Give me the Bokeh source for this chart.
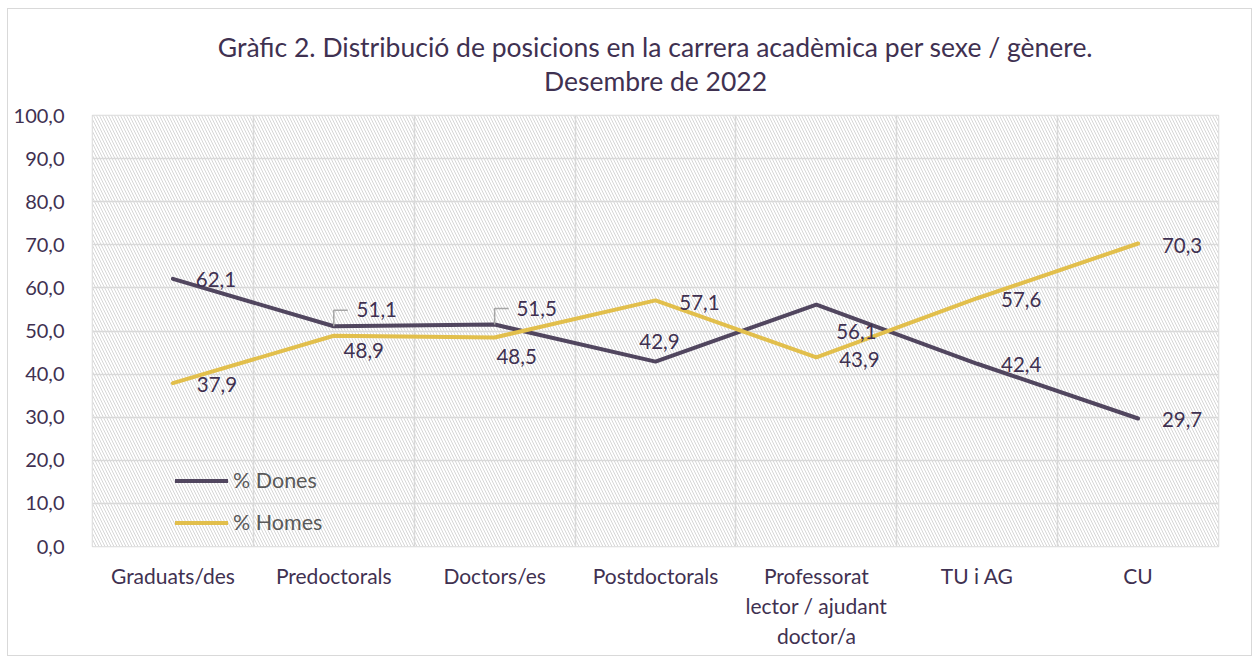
from bokeh.plotting import figure
from bokeh.models import (Range1d, FixedTicker, Title, Legend, LegendItem, ColumnDataSource)
from bokeh.core.properties import value
from bokeh.embed import file_html
from bokeh.resources import INLINE

# ---------------- data ----------------
categories = ["Graduats/des", "Predoctorals", "Doctors/es", "Postdoctorals",
              "Professorat\nlector / ajudant\ndoctor/a", "TU i AG", "CU"]
dones = [62.1, 51.1, 51.5, 42.9, 56.1, 42.4, 29.7]
homes = [37.9, 48.9, 48.5, 57.1, 43.9, 57.6, 70.3]
y_ticks = [0, 10, 20, 30, 40, 50, 60, 70, 80, 90, 100]
title_line1 = "Gràfic 2. Distribució de posicions en la carrera acadèmica per sexe / gènere."
title_line2 = "Desembre de 2022"

# ---------------- style ----------------
FONT = "Lato"
TEXT = "#3f3151"
C_DONES = "#51465f"
C_HOMES = "#e2bf4c"
GRID = "#d9d9d9"
FW, FH = 1126, 431
PX_X = FW / len(categories)
PX_Y = FH / 100.0

# label offsets in screen pixels (x right, y down)
dones_dx = [43, 43, 42, 4, 40, 44, 44]
dones_dy = [1, -17, -16, -20, 27, 1, 1]
homes_dx = [44, 30, 22, 44, 43, 44, 44]
homes_dy = [1, 15, 19, 2, 2, 1, 2]

xs = [i + 0.5 for i in range(len(categories))]

p = figure(frame_width=FW, frame_height=FH,
           x_range=Range1d(0, len(categories)), y_range=Range1d(0, 100),
           output_backend="svg", toolbar_location=None,
           min_border_left=84, min_border_right=33,
           min_border_top=0, min_border_bottom=109,
           background_fill_color="white", border_fill_color="white")
p.styles = {"margin-left": "7px", "margin-top": "8px",
            "border": "1px solid #d9d9d9"}
p.outline_line_color = GRID
p.outline_line_width = 1.5

# hatched plot area
p.quad(left=[0], right=[len(categories)], bottom=[0], top=[100],
       fill_color="white", line_color=None,
       hatch_pattern="\\", hatch_color="#d6d6d6", hatch_scale=6, hatch_weight=1,
       level="image")

# axes
p.xaxis.ticker = FixedTicker(ticks=xs)
p.xaxis.major_label_overrides = {x: c for x, c in zip(xs, categories)}
p.yaxis.ticker = FixedTicker(ticks=y_ticks)
p.yaxis.major_label_overrides = {v: f"{v:.1f}".replace(".", ",") for v in y_ticks}
for ax in (p.xaxis, p.yaxis):
    ax.axis_line_color = None
    ax.major_tick_line_color = None
    ax.minor_tick_line_color = None
    ax.major_label_text_font = FONT
    ax.major_label_text_color = TEXT
p.yaxis.major_label_text_font_size = "20px"
p.xaxis.major_label_text_font_size = "21px"
p.yaxis.major_label_standoff = 22
p.xaxis.major_label_standoff = 10

p.xgrid.ticker = FixedTicker(ticks=list(range(len(categories) + 1)))
p.ygrid.ticker = FixedTicker(ticks=y_ticks)
for g in (p.xgrid, p.ygrid):
    g.grid_line_color = GRID
    g.grid_line_width = 1.5

# lines
r_d = p.line(xs, dones, line_color=C_DONES, line_width=4, line_join="round", line_cap="round")
r_h = p.line(xs, homes, line_color=C_HOMES, line_width=4, line_join="round", line_cap="round")

# leader lines for the two moved labels
lead_x, lead_y = [], []
for i in (1, 2):
    x0, y0 = xs[i], dones[i]
    lead_x.append([x0, x0, x0 + 14 / PX_X])
    lead_y.append([y0, y0 + 16 / PX_Y, y0 + 16 / PX_Y])
p.multi_line(lead_x, lead_y, line_color="#a6a6a6", line_width=1.5)

def fmt(v):
    return f"{v:.1f}".replace(".", ",")

src = ColumnDataSource(dict(
    x=xs + xs,
    y=dones + homes,
    t=[fmt(v) for v in dones] + [fmt(v) for v in homes],
    dx=dones_dx + homes_dx,
    dy=dones_dy + homes_dy,
))
p.text(x="x", y="y", text="t", x_offset="dx", y_offset="dy", source=src,
       text_font=value(FONT), text_font_size="20.5px", text_color=TEXT,
       text_align="center", text_baseline="middle")

# legend
legend = Legend(items=[LegendItem(label="% Dones", renderers=[r_d]),
                       LegendItem(label="% Homes", renderers=[r_h])],
                location=(83, 11), orientation="vertical",
                background_fill_alpha=0, border_line_color=None,
                glyph_width=53, glyph_height=25, label_height=25,
                label_standoff=5, spacing=16, padding=0, margin=0,
                label_text_font=FONT, label_text_font_size="21.5px",
                label_text_color="#595959")
p.add_layout(legend, "center")

# titles, stacked outward from the frame; a blank one on top gives the top margin
p.title = None
p.add_layout(Title(text=title_line2, align="center", text_font=FONT,
                   text_font_size="26.5px", text_font_style="normal",
                   vertical_align="top", standoff=34, text_color=TEXT), "above")
p.add_layout(Title(text=title_line1, align="center", text_font=FONT,
                   text_font_size="26.5px", text_font_style="normal",
                   vertical_align="bottom", standoff=-30, text_color=TEXT), "above")
p.add_layout(Title(text=" ", align="center", text_font=FONT,
                   text_font_size="26.5px", standoff=0, text_color=TEXT), "above")

open("out.html", "w").write(file_html(p, INLINE))
